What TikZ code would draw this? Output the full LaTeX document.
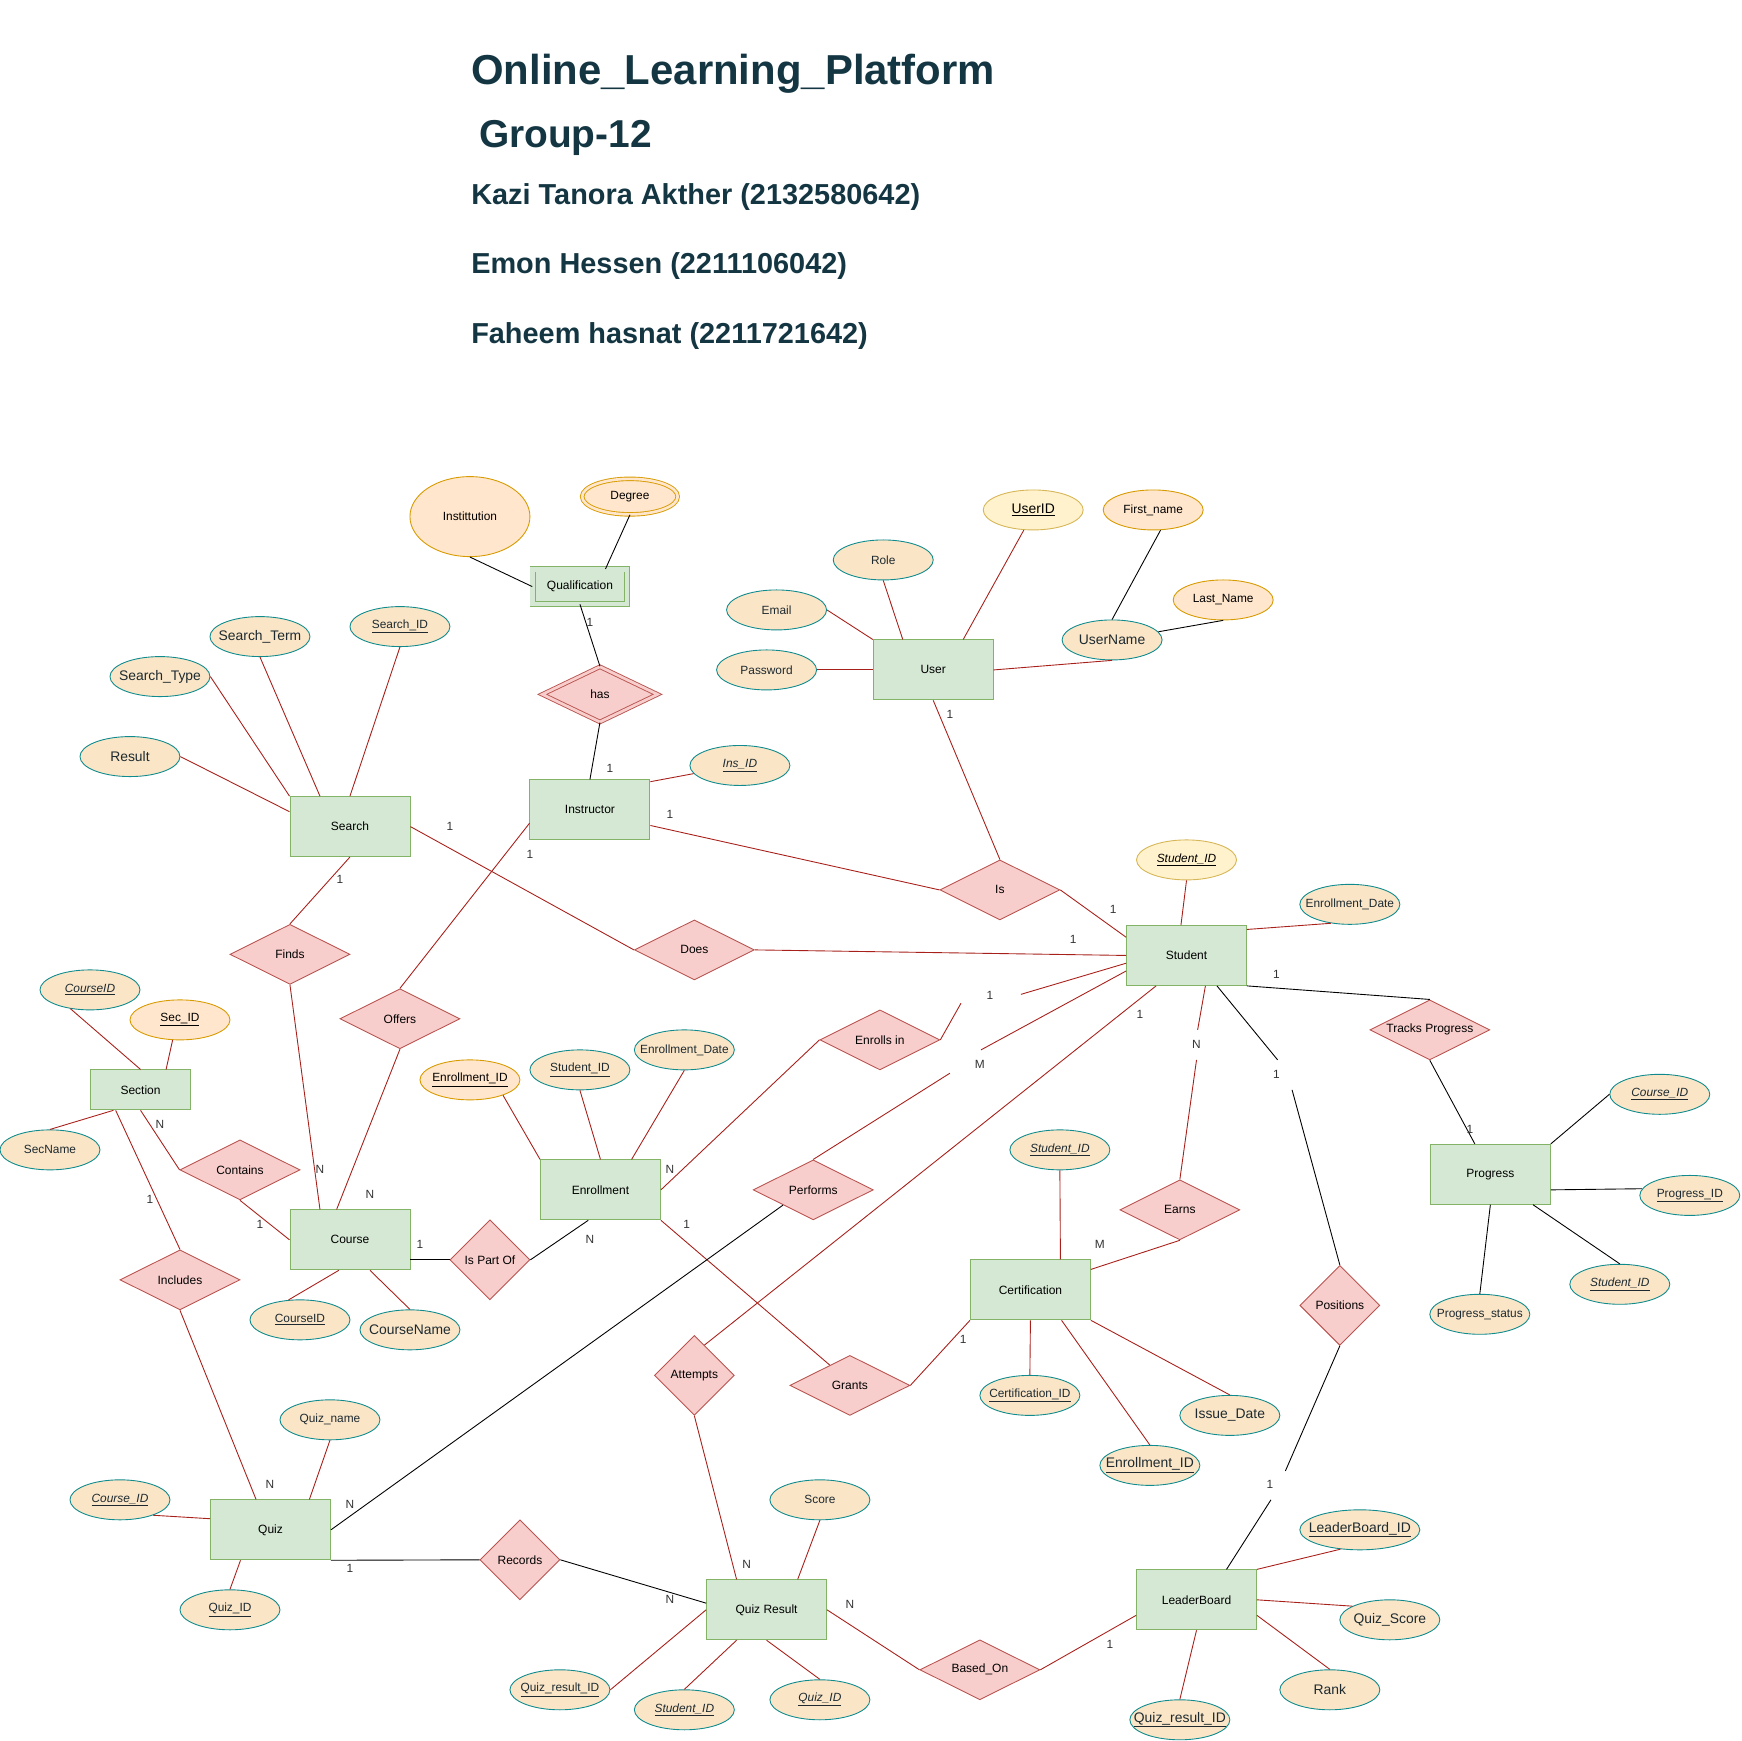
\documentclass[tikz,border=0pt]{standalone}
\usepackage{fontspec}
\setmainfont{Liberation Sans}
\usetikzlibrary{shapes.geometric,calc}
\definecolor{entF}{HTML}{D5E8D4}
\definecolor{entS}{HTML}{82B366}
\definecolor{relF}{HTML}{F8CECC}
\definecolor{relS}{HTML}{B85450}
\definecolor{tealF}{HTML}{FAE5C7}
\definecolor{tealS}{HTML}{0F8B8D}
\definecolor{orF}{HTML}{FFE6CC}
\definecolor{orS}{HTML}{D79B00}
\definecolor{yeF}{HTML}{FFF2CC}
\definecolor{yeS}{HTML}{D6B656}
\definecolor{lnR}{HTML}{A8201A}
\definecolor{ttlC}{HTML}{143642}
\definecolor{txtC}{HTML}{1E2A30}
\newcommand\myfsS{\fontsize{10.7}{12}\selectfont}
\newcommand\myfsL{\fontsize{12.5}{14}\selectfont}
\newcommand\myfsE{\fontsize{10.8}{12}\selectfont}
\newcommand\uline[1]{\underline{#1}}
\newcommand\iuline[1]{\textit{\underline{#1}}}
\begin{document}
\begin{tikzpicture}[x=1pt,y=-1pt,
  erent/.style={draw=entS, fill=entF, line width=0.8pt, minimum width=108pt, minimum height=54pt, inner sep=0pt, font=\myfsE, text=black},
  errel/.style={diamond, aspect=2, draw=relS, fill=relF, line width=0.8pt, minimum width=108pt, minimum height=54pt, inner sep=0pt, font=\myfsE, text=black},
  errsq/.style={errel, aspect=1, minimum width=72pt, minimum height=72pt},
  eratt/.style={ellipse, draw=tealS, fill=tealF, line width=0.8pt, minimum width=90pt, minimum height=36pt, inner xsep=-15pt, inner ysep=0pt, font=\myfsS, text=txtC},
  eratto/.style={eratt, draw=orS, fill=orF, text=black},
  eratty/.style={eratt, draw=yeS, fill=yeF, text=black},
  bigtxt/.style={font=\myfsL},
  redln/.style={draw=lnR, line width=0.8pt},
  blkln/.style={draw=black, line width=0.8pt},
  cardl/.style={font=\myfsS, text=black!80, inner sep=1pt},
  ttl/.style={anchor=base west, text=ttlC, inner sep=0pt, font=\bfseries}
]
\useasboundingbox (0,0) rectangle (1568,1567);

% ---------------- titles ----------------
\node[ttl, font=\fontsize{37.7}{40}\selectfont\bfseries] (t1) at (424,76.5) {Online\_Learning\_Platform};
\node[ttl, font=\fontsize{35}{38}\selectfont\bfseries] (t2) at (431,133) {Group-12};
\node[ttl, font=\fontsize{26}{28}\selectfont\bfseries] (t3) at (424,184.5) {Kazi Tanora Akther (2132580642)};
\node[ttl, font=\fontsize{26}{28}\selectfont\bfseries] (t4) at (424,246) {Emon Hessen (2211106042)};
\node[ttl, font=\fontsize{26}{28}\selectfont\bfseries] (t5) at (424,309) {Faheem hasnat (2211721642)};

% ---------------- entities ----------------
\node[erent, double=entF, double distance=4pt, minimum width=85pt, minimum height=31pt] (Qual) at (522,528) {Qualification};
\node[erent] (Search) at (315,744) {Search};
\node[erent] (Instructor) at (531,729) {Instructor};
\node[erent] (User) at (840,603) {User};
\node[erent] (Student) at (1068,860) {Student};
\node[erent, minimum width=90pt, minimum height=36pt] (Section) at (126.5,981) {Section};
\node[erent] (Course) at (315,1116) {Course};
\node[erent] (Enrollment) at (540.5,1071) {Enrollment};
\node[erent] (Cert) at (927.5,1161) {Certification};
\node[erent] (Progress) at (1341.5,1057) {Progress};
\node[erent] (Quiz) at (243.5,1377) {Quiz};
\node[erent] (QR) at (690,1449) {Quiz Result};
\node[erent] (LB) at (1077,1440) {LeaderBoard};

% ---------------- relationships ----------------
\node[errel, double=relF, double distance=2.5pt, minimum width=104pt, minimum height=50pt] (has) at (540,625) {has};
\node[errel] (Is) at (900,801) {Is};
\node[errel] (Finds) at (261,859) {Finds};
\node[errel] (Does) at (625,855) {Does};
\node[errel] (Offers) at (360,917) {Offers};
\node[errel] (Enrolls) at (792,936) {Enrolls in};
\node[errel] (TP) at (1287,927) {Tracks Progress};
\node[errel] (Contains) at (216,1053) {Contains};
\node[errel] (Includes) at (162,1152) {Includes};
\node[errsq] (IsPartOf) at (441,1134) {Is Part Of};
\node[errel] (Performs) at (732,1071) {Performs};
\node[errel] (Earns) at (1062,1089) {Earns};
\node[errsq] (Positions) at (1206,1175) {Positions};
\node[errsq] (Attempts) at (625,1238) {Attempts};
\node[errel] (Grants) at (765,1247) {Grants};
\node[errsq] (Records) at (468,1404) {Records};
\node[errel] (BasedOn) at (882,1503) {Based\_On};

% ---------------- attributes ----------------
\node[eratto, minimum width=108pt, minimum height=72pt] (Institution) at (423,465) {Instittution};
\node[eratto, double=orF, double distance=2.4pt, minimum width=86pt, minimum height=32pt] (Degree) at (567,447) {Degree};
\node[eratty, bigtxt] (UserID) at (930,459) {\uline{UserID}};
\node[eratto] (FirstName) at (1038,459) {First\_name};
\node[eratt] (Role) at (795,504) {Role};
\node[eratt] (Email) at (699,549) {Email};
\node[eratt] (Password) at (690,603) {Password};
\node[eratt, bigtxt] (UserName) at (1001,576) {UserName};
\node[eratto] (LastName) at (1101,540) {Last\_Name};
\node[eratt] (SearchID) at (360,564) {\uline{Search\_ID}};
\node[eratt, bigtxt] (SearchTerm) at (234,573) {Search\_Term};
\node[eratt, bigtxt] (SearchType) at (144,609) {Search\_Type};
\node[eratt, bigtxt] (Result) at (117,681) {Result};
\node[eratt] (InsID) at (666,689) {\iuline{Ins\_ID}};
\node[eratty] (StudentID) at (1068,774) {\iuline{Student\_ID}};
\node[eratt] (EnrDateS) at (1215,814) {Enrollment\_Date};
\node[eratt] (CourseIDs) at (81,891) {\iuline{CourseID}};
\node[eratto] (SecID) at (162,918) {\uline{Sec\_ID}};
\node[eratt] (SecName) at (45,1035) {SecName};
\node[eratto] (EnrIDe) at (423,972) {\uline{Enrollment\_ID}};
\node[eratt] (StudentIDe) at (522,963) {\uline{Student\_ID}};
\node[eratt] (EnrDateE) at (616,945) {Enrollment\_Date};
\node[eratt] (CourseIDc) at (270,1188) {\uline{CourseID}};
\node[eratt, bigtxt] (CourseName) at (369,1197) {CourseName};
\node[eratt] (StudentIDc) at (954,1035) {\iuline{Student\_ID}};
\node[eratt] (CertID) at (927,1256) {\uline{Certification\_ID}};
\node[eratt, bigtxt] (IssueDate) at (1107,1274) {Issue\_Date};
\node[eratt, bigtxt] (EnrIDc) at (1035,1319) {\uline{Enrollment\_ID}};
\node[eratt] (CourseIDp) at (1494,985) {\iuline{Course\_ID}};
\node[eratt] (ProgressID) at (1521,1076) {\uline{Progress\_ID}};
\node[eratt] (StudentIDp) at (1458,1156) {\iuline{Student\_ID}};
\node[eratt] (ProgStatus) at (1332,1183) {Progress\_status};
\node[eratt] (QuizName) at (297,1278) {Quiz\_name};
\node[eratt] (CourseIDq) at (108,1350) {\iuline{Course\_ID}};
\node[eratt] (QuizIDq) at (207,1449) {\uline{Quiz\_ID}};
\node[eratt] (Score) at (738,1350) {Score};
\node[eratt] (QRIDq) at (504,1521) {\uline{Quiz\_result\_ID}};
\node[eratt] (StudentIDqr) at (616,1539) {\iuline{Student\_ID}};
\node[eratt] (QuizIDqr) at (738,1530) {\iuline{Quiz\_ID}};
\node[eratt, bigtxt, minimum width=108pt] (LBID) at (1224,1377) {\uline{LeaderBoard\_ID}};
\node[eratt, bigtxt] (QuizScore) at (1251,1458) {Quiz\_Score};
\node[eratt, bigtxt] (Rank) at (1197,1521) {Rank};
\node[eratt, bigtxt] (QRIDlb) at (1062,1548) {\uline{Quiz\_result\_ID}};

% ---------------- break coordinates ----------------
\coordinate (ea) at (865,903);  \coordinate (eb) at (919,895);
\coordinate (pa) at (855,966);  \coordinate (pb) at (883,945);
\coordinate (na) at (1078,927); \coordinate (nb) at (1077,954);
\coordinate (qa) at (1150,954); \coordinate (qb) at (1163,981);
\coordinate (ra) at (1157,1324); \coordinate (rb) at (1144,1350);

% ---------------- connectors ----------------
\begin{scope}[on background layer/.style={}]
% qualification
\draw[blkln] (Institution.south) -- (Qual.west);
\draw[blkln] (Degree.south) -- ($(Qual.north)+(23,0)$);
\draw[blkln] (Qual.south) -- (has.north);
\draw[blkln] (has.south) -- (Instructor.north);
\draw[redln] ($(Instructor.north east)+(0,2)$) -- (InsID.190);
% user
\draw[redln] (Role.south) -- ($(User.north west)+(27,0)$);
\draw[redln] (UserID.-115) -- ($(User.north)+(27,0)$);
\draw[redln] (Email.east) -- (User.north west);
\draw[redln] (Password.east) -- (User.west);
\draw[redln] (UserName.south) -- (User.east);
\draw[blkln] (FirstName.-70) -- (UserName.north);
\draw[blkln] (LastName.south) -- (UserName.10);
% search
\draw[redln] (SearchID.south) -- (Search.north);
\draw[redln] (SearchTerm.south) -- ($(Search.north)+(-27,0)$);
\draw[redln] (SearchType.east) -- (Search.north west);
\draw[redln] (Result.east) -- ($(Search.north west)+(0,14)$);
\draw[redln] (Search.east) -- (Does.west);
\draw[redln] (Search.south) -- (Finds.north);
% student relations
\draw[redln] ($(Instructor.east)+(0,14)$) -- (Is.west);
\draw[redln] (User.south) -- (Is.north);
\draw[redln] (Is.east) -- ($(Student.north west)+(0,11)$);
\draw[redln] (Does.east) -- (Student.west);
\draw[redln] (Offers.north) -- ($(Instructor.west)+(0,12)$);
\draw[redln] (Finds.south) -- ($(Course.north)+(-27,0)$);
\draw[redln] (Offers.south) -- ($(Course.north)+(-12,0)$);
\draw[redln] (Enrolls.east) -- (ea);
\draw[redln] (eb) -- ($(Student.west)+(0,7)$);
\draw[redln] (Performs.north) -- (pa);
\draw[redln] (pb) -- ($(Student.west)+(0,14)$);
\draw[redln] ($(Student.south west)+(27,0)$) -- ($(Attempts.north)!0.25!(Attempts.east)$);
\draw[redln] ($(Student.south)+(17,0)$) -- (na);
\draw[redln] (nb) -- (Earns.north);
\draw[blkln] ($(Student.south east)+(-27,0)$) -- (qa);
\draw[blkln] (qb) -- (Positions.north);
\draw[blkln] (Positions.south) -- (ra);
\draw[blkln] (rb) -- ($(LB.north)+(27,0)$);
\draw[blkln] (Student.south east) -- (TP.north);
\draw[blkln] (TP.south) -- ($(Progress.north)+(-14,0)$);
\draw[redln] ($(Student.north east)+(0,4)$) -- (EnrDateS.-135);
\draw[redln] (StudentID.south) -- ($(Student.north)+(-5,0)$);
% progress
\draw[blkln] (Progress.north east) -- (CourseIDp.west);
\draw[blkln] ($(Progress.east)+(0,14)$) -- (ProgressID.172);
\draw[blkln] ($(Progress.south east)+(-16,0)$) -- (StudentIDp.north);
\draw[blkln] (Progress.south) -- (ProgStatus.north);
% section
\draw[redln] (CourseIDs.-136) -- (Section.north);
\draw[redln] (SecID.-110) -- ($(Section.north)+(23,0)$);
\draw[redln] (SecName.north) -- ($(Section.south west)+(21,0)$);
\draw[redln] ($(Section.south west)+(23,0)$) -- (Includes.north);
\draw[redln] (Section.south) -- (Contains.west);
\draw[redln] (Contains.south) -- (Course.west);
\draw[redln] (Includes.south) -- ($(Quiz.north)+(-13,0)$);
% course
\draw[redln] (CourseIDc.120) -- ($(Course.south)+(-10,0)$);
\draw[redln] (CourseName.north) -- ($(Course.south)+(18,0)$);
\draw[blkln] ($(Course.east)+(0,18)$) -- (IsPartOf.west);
\draw[blkln] (IsPartOf.east) -- ($(Enrollment.south)+(-11,0)$);
% enrollment
\draw[redln] (EnrIDe.-25) -- (Enrollment.north west);
\draw[redln] (StudentIDe.south) -- (Enrollment.north);
\draw[redln] (EnrDateE.south) -- ($(Enrollment.north)+(28,0)$);
\draw[redln] (Enrollment.east) -- (Enrolls.west);
\draw[redln] (Enrollment.south east) -- ($(Grants.west)!0.667!(Grants.north)$);
% certification
\draw[redln] (StudentIDc.south) -- ($(Cert.north)+(27,0)$);
\draw[redln] (Earns.south) -- ($(Cert.north east)+(0,9)$);
\draw[redln] (CertID.north) -- (Cert.south);
\draw[redln] (EnrIDc.north) -- ($(Cert.south)+(28,0)$);
\draw[redln] (IssueDate.north) -- (Cert.south east);
\draw[redln] (Cert.south west) -- (Grants.east);
% quiz
\draw[redln] (QuizName.south) -- ($(Quiz.north)+(35,0)$);
\draw[redln] (CourseIDq.-25) -- ($(Quiz.west)+(0,-10)$);
\draw[redln] (QuizIDq.north) -- ($(Quiz.south)+(-27,0)$);
\draw[blkln] (Performs.south west) -- (Quiz.east);
\draw[blkln] (Quiz.south east) -- (Records.west);
\draw[blkln] (Records.east) -- ($(QR.west)+(0,-6)$);
% quiz result
\draw[redln] (Attempts.south) -- ($(QR.north)+(-27,0)$);
\draw[redln] (Score.south) -- ($(QR.north)+(28,0)$);
\draw[redln] (QR.east) -- (BasedOn.west);
\draw[redln] (QRIDq.east) -- (QR.west);
\draw[redln] (StudentIDqr.north) -- ($(QR.south)+(-27,0)$);
\draw[redln] (QuizIDqr.north) -- (QR.south);
% leaderboard
\draw[redln] (BasedOn.east) -- ($(LB.west)+(0,14)$);
\draw[redln] (LBID.-135) -- (LB.north east);
\draw[redln] (QuizScore.160) -- (LB.east);
\draw[redln] (Rank.north) -- ($(LB.east)+(0,14)$);
\draw[redln] (QRIDlb.north) -- (LB.south);
\end{scope}

% ---------------- cardinalities ----------------
\node[cardl] (c1) at (531,560) {1};
\node[cardl] (c2) at (549,692) {1};
\node[cardl] (c3) at (603,733) {1};
\node[cardl] (c4) at (855,643) {1};
\node[cardl] (c5) at (1002,819) {1};
\node[cardl] (c6) at (966,846) {1};
\node[cardl] (c7) at (405,744) {1};
\node[cardl] (c8) at (477,769) {1};
\node[cardl] (c9) at (306,792) {1};
\node[cardl] (c10) at (891,896) {1};
\node[cardl] (c11) at (882,958) {M};
\node[cardl] (c12) at (1026,913) {1};
\node[cardl] (c13) at (1077,940) {N};
\node[cardl] (c14) at (1149,877) {1};
\node[cardl] (c15) at (1149,967) {1};
\node[cardl] (c16) at (1323,1017) {1};
\node[cardl] (c17) at (144,1012) {N};
\node[cardl] (c18) at (234,1102) {1};
\node[cardl] (c19) at (135,1080) {1};
\node[cardl] (c20) at (288,1053) {N};
\node[cardl] (c21) at (333,1075) {N};
\node[cardl] (c22) at (603,1053) {N};
\node[cardl] (c23) at (378,1120) {1};
\node[cardl] (c24) at (531,1116) {N};
\node[cardl] (c25) at (618,1102) {1};
\node[cardl] (c26) at (990,1120) {M};
\node[cardl] (c27) at (867,1206) {1};
\node[cardl] (c28) at (243,1336) {N};
\node[cardl] (c29) at (315,1354) {N};
\node[cardl] (c30) at (315,1412) {1};
\node[cardl] (c31) at (603,1440) {N};
\node[cardl] (c32) at (672,1408) {N};
\node[cardl] (c33) at (765,1444) {N};
\node[cardl] (c34) at (999,1480) {1};
\node[cardl] (c35) at (1143,1336) {1};
\end{tikzpicture}
\end{document}
